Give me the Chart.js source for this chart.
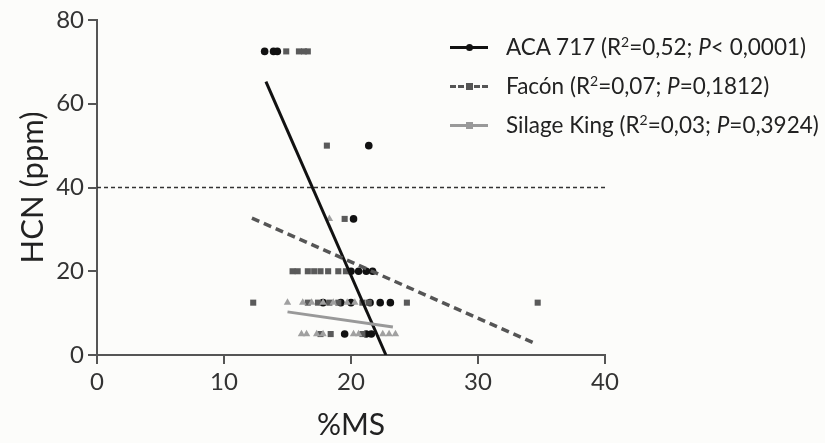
<!DOCTYPE html>
<html>
<head>
<meta charset="utf-8">
<script src="https://cdn.jsdelivr.net/npm/chart.js@4.4.1/dist/chart.umd.min.js"></script>
<style>
  html, body { margin: 0; padding: 0; background: #fcfcfa; }
  #wrap { position: relative; width: 825px; height: 443px; }
  #legend {
    position: absolute; left: 450px; top: 27px;
    font-family: Lato, "Open Sans", sans-serif; font-size: 22.5px; color: #222;
  }
  .row { display: flex; align-items: center; height: 39px; white-space: nowrap; }
  .sample { position: relative; width: 38px; height: 12px; margin-right: 18px; }
  .sample .ln { position: absolute; left: 0; right: 0; top: 5px; }
  .sample .mk { position: absolute; left: 16px; top: 3px; width: 7px; height: 7px; }
  sup { font-size: 14px; line-height: 0; }
</style>
</head>
<body>
<div id="wrap">
  <canvas id="chart" width="825" height="443"></canvas>
  <div id="legend">
    <div class="row">
      <span class="sample"><span class="ln" style="border-top:3px solid #111"></span><span class="mk" style="background:#111;border-radius:50%"></span></span>
      <span>ACA 717 (R<sup>2</sup>=0,52; <i>P</i>&lt; 0,0001)</span>
    </div>
    <div class="row">
      <span class="sample"><span class="ln" style="border-top:3px dashed #555"></span><span class="mk" style="background:#555"></span></span>
      <span>Facón (R<sup>2</sup>=0,07; <i>P</i>=0,1812)</span>
    </div>
    <div class="row">
      <span class="sample"><span class="ln" style="border-top:3px solid #999"></span><span class="mk" style="background:#999"></span></span>
      <span>Silage King (R<sup>2</sup>=0,03; <i>P</i>=0,3924)</span>
    </div>
  </div>
</div>
<script>
// observations (%MS, HCN ppm)
const acaX = [13.2, 13.9, 14.2, 21.4, 20.2, 20.0, 20.6, 21.2, 21.7, 17.8, 19.2, 20.0, 21.5, 22.3, 23.1, 19.5, 21.2, 21.6];
const acaY = [72.5, 72.5, 72.5, 50, 32.5, 20, 20, 20, 20, 12.5, 12.5, 12.5, 12.5, 12.5, 12.5, 5, 5, 5];

const faconX = [14.9, 15.9, 16.3, 16.6, 18.1, 19.5, 15.4, 15.8, 16.6, 17.1, 17.6, 18.2, 19.0, 19.6, 12.3, 16.6, 17.4, 18.3, 19.0, 20.9, 21.4, 24.4, 34.7, 17.6, 18.4, 20.9];
const faconY = [72.5, 72.5, 72.5, 72.5, 50, 32.5, 20, 20, 20, 20, 20, 20, 20, 20, 12.5, 12.5, 12.5, 12.5, 12.5, 12.5, 12.5, 12.5, 12.5, 5, 5, 5];

const silageX = [18.3, 15.0, 16.2, 16.9, 17.8, 18.6, 19.7, 20.3, 16.1, 16.5, 17.3, 17.8, 20.2, 20.6, 22.5, 23.0, 23.5];
const silageY = [32.5, 12.5, 12.5, 12.5, 12.5, 12.5, 12.5, 12.5, 5, 5, 5, 5, 5, 5, 5, 5, 5];

// regression line end points
const acaFitX = [13.3, 22.75];
const acaFitY = [65.3, 0];
const faconFitX = [12.2, 34.6];
const faconFitY = [32.7, 2.6];
const silageFitX = [15.0, 23.3];
const silageFitY = [10.3, 6.7];

// limit line
const limitX = [0, 40];
const limitY = [40, 40];

const xTicks = [0, 10, 20, 30, 40];
const yTicks = [0, 20, 40, 60, 80];

function pts(xs, ys) {
  return xs.map((x, i) => ({ x, y: ys[i] }));
}

const FONT = "Lato, 'Open Sans', sans-serif";

const lineDs = (data, color, width, dash) => ({
  type: "line",
  data,
  borderColor: color,
  borderWidth: width,
  borderDash: dash || [],
  pointRadius: 0,
  fill: false,
  tension: 0,
  order: 0,
});

new Chart(document.getElementById("chart"), {
  type: "scatter",
  data: {
    datasets: [
      { data: pts(acaX, acaY), pointStyle: "circle", pointRadius: 3.8, backgroundColor: "#111", borderWidth: 0, order: 3 },
      { data: pts(faconX, faconY), pointStyle: "rect", pointRadius: 4.3, backgroundColor: "#5a5a5a", borderWidth: 0, order: 2 },
      { data: pts(silageX, silageY), pointStyle: "triangle", pointRadius: 4.3, backgroundColor: "#a0a0a0", borderWidth: 0, order: 1 },
      lineDs(pts(limitX, limitY), "#333", 1.5, [4, 3]),
      lineDs(pts(silageFitX, silageFitY), "#999", 3),
      lineDs(pts(faconFitX, faconFitY), "#555", 3.5, [8, 5]),
      lineDs(pts(acaFitX, acaFitY), "#111", 3),
    ],
  },
  options: {
    responsive: false,
    animation: false,
    layout: { padding: { left: 0, right: 220, top: 20, bottom: 0 } },
    plugins: { legend: { display: false }, tooltip: { enabled: false } },
    scales: {
      x: {
        type: "linear",
        min: 0,
        max: 40,
        afterBuildTicks: (axis) => { axis.ticks = xTicks.map((v) => ({ value: v })); },
        afterFit: (axis) => { axis.height = 88; },
        grid: { drawOnChartArea: false, drawTicks: true, tickLength: 9, color: "#555", lineWidth: 2 },
        border: { display: true, color: "#555", width: 2 },
        ticks: { color: "#333", font: { family: FONT, size: 24 }, padding: 4 },
        title: { display: true, text: "%MS", color: "#222", font: { family: FONT, size: 30 }, padding: { top: 6, bottom: 0 } },
      },
      y: {
        type: "linear",
        min: 0,
        max: 80,
        afterBuildTicks: (axis) => { axis.ticks = yTicks.map((v) => ({ value: v })); },
        afterFit: (axis) => { axis.width = 97; },
        grid: { drawOnChartArea: false, drawTicks: true, tickLength: 9, color: "#555", lineWidth: 2 },
        border: { display: true, color: "#555", width: 2 },
        ticks: { color: "#333", font: { family: FONT, size: 24 }, padding: 4 },
        title: { display: true, text: "HCN (ppm)", color: "#222", font: { family: FONT, size: 31 }, padding: { top: 14, bottom: 0 } },
      },
    },
  },
});
</script>
</body>
</html>
